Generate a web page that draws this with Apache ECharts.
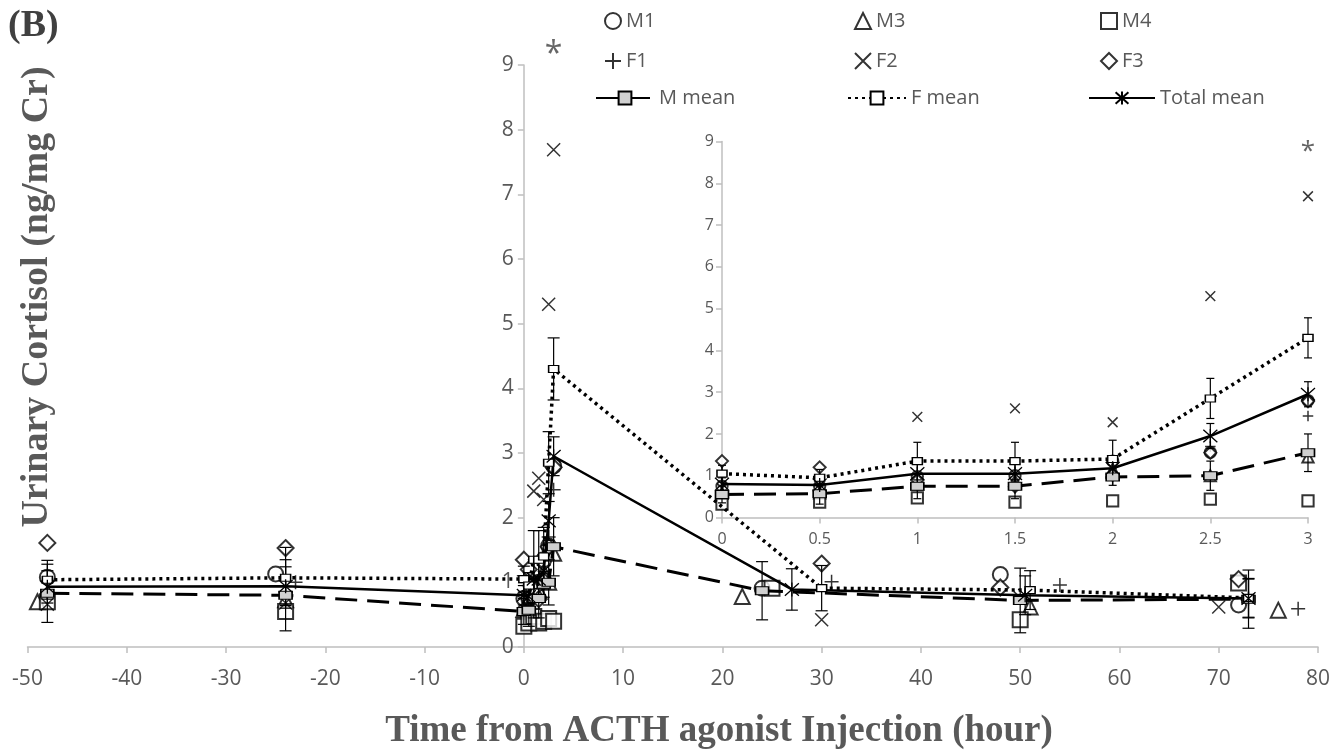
<!DOCTYPE html>
<html>
<head>
<meta charset="utf-8">
<script src="https://cdn.jsdelivr.net/npm/echarts@6/dist/echarts.min.js"></script>
<style>
  html, body { margin: 0; padding: 0; background: #fff; }
  #chart { width: 1341px; height: 753px; }
</style>
</head>
<body>
<div id="chart"></div>
<script>
// individual animals: sampling times (hour) and cortisol values
const tM1 = [-48, -25, 0, 0.5, 1, 1.5, 2, 2.5, 3, 24, 48, 72];
const vM1 = [1.08, 1.13, 0.75, 0.75, 0.98, 1.0, 1.35, 1.56, 2.8, 0.91, 1.12, 0.65];
const tM3 = [-49, -24, 0, 0.5, 1, 1.5, 2, 2.5, 3, 22, 51, 76];
const vM3 = [0.70, 0.73, 0.58, 0.59, 0.8, 0.88, 1.16, 1.0, 1.45, 0.78, 0.62, 0.57];
const tM4 = [-48, -24, 0, 0.5, 1, 1.5, 2, 2.5, 3, 25, 50, 72];
const vM4 = [0.70, 0.55, 0.32, 0.37, 0.47, 0.37, 0.4, 0.44, 0.4, 0.91, 0.42, 0.99];
const tF1 = [-48, -23, 0, 0.5, 1, 1.5, 2, 2.5, 3, 31, 54, 78];
const vF1 = [0.85, 1.0, 1.1, 0.95, 0.75, 0.7, 0.9, 1.7, 2.43, 1.01, 0.96, 0.59];
const tF2 = [-48, -24, 0, 0.5, 1, 1.5, 2, 2.5, 3, 30, 50, 70];
const vF2 = [0.66, 0.68, 0.7, 0.7, 2.41, 2.61, 2.28, 5.3, 7.69, 0.42, 0.76, 0.62];
const tF3 = [-48, -24, 0, 0.5, 1, 1.5, 2, 2.5, 3, 30, 48, 72];
const vF3 = [1.61, 1.53, 1.35, 1.2, 0.89, 0.74, 1.02, 1.55, 2.78, 1.29, 0.92, 1.05];

// group means with standard errors
const tMmean = [-48, -24, 0, 0.5, 1, 1.5, 2, 2.5, 3, 24, 50, 73];
const vMmean = [0.83, 0.80, 0.55, 0.57, 0.75, 0.75, 0.97, 1.0, 1.55, 0.87, 0.72, 0.74];
const eMmean = [0.45, 0.55, 0.2, 0.25, 0.3, 0.3, 0.2, 0.35, 0.45, 0.45, 0.5, 0.45];
const tFmean = [-48, -24, 0, 0.5, 1, 1.5, 2, 2.5, 3, 30, 51, 73];
const vFmean = [1.04, 1.07, 1.05, 0.95, 1.35, 1.35, 1.4, 2.85, 4.3, 0.91, 0.88, 0.76];
const eFmean = [0.3, 0.47, 0.2, 0.2, 0.45, 0.45, 0.45, 0.48, 0.48, 0.35, 0.3, 0.3];
const tTmean = [-48, -24, 0, 0.5, 1, 1.5, 2, 2.5, 3, 27, 50.5, 73];
const vTmean = [0.93, 0.94, 0.8, 0.78, 1.05, 1.05, 1.18, 1.95, 2.95, 0.89, 0.8, 0.75];
const eTmean = [0.25, 0.3, 0.15, 0.15, 0.3, 0.3, 0.25, 0.3, 0.3, 0.32, 0.3, 0.3];

// significance mark positions [time, value] for main plot and inset
const sigMain = [[3, 9.15]];
const sigInset = [[3, 8.75]];

const xTicksMain = { min: -50, max: 80, interval: 10 };
const xTicksInset = { min: 0, max: 3, interval: 0.5 };
const yTicks = { min: 0, max: 9, interval: 1 };

const GREY = '#595959';
const AXIS = '#bfbfbf';
const SANS = '"Open Sans", "Noto Sans", sans-serif';
const SERIF = '"Liberation Serif", "DejaVu Serif", serif';

const PLUS = 'path://M5,0 L5,10 M0,5 L10,5';
const CROSS = 'path://M0,0 L10,10 M10,0 L0,10';
const STAR = 'path://M5,0 L5,10 M0.5,0.5 L9.5,9.5 M9.5,0.5 L0.5,9.5';

// main grid edges, used to shift the y axis onto x = 0
const mainLeft = 27.5, mainRight = 23;
const mainWidth = 1341 - mainLeft - mainRight;
const yAxisShift = (0 - xTicksMain.min) / (xTicksMain.max - xTicksMain.min) * mainWidth;

function pairs(t, v) { return t.map((x, i) => [x, v[i]]); }
function inInset(p) { return p[0] >= 0 && p[0] <= 3; }
function errs(t, v, e) { return t.map((x, i) => [x, v[i] - e[i], v[i] + e[i]]); }

const individuals = [
  { name: 'M1', t: tM1, v: vM1, symbol: 'emptyCircle', size: 15 },
  { name: 'M3', t: tM3, v: vM3, symbol: 'emptyTriangle', size: 15 },
  { name: 'M4', t: tM4, v: vM4, symbol: 'emptyRect', size: 15 },
  { name: 'F1', t: tF1, v: vF1, symbol: PLUS, size: 14 },
  { name: 'F2', t: tF2, v: vF2, symbol: CROSS, size: 13 },
  { name: 'F3', t: tF3, v: vF3, symbol: 'emptyDiamond', size: 16 }
];

const means = [
  { name: 'M mean', t: tMmean, v: vMmean, e: eMmean, type: [22, 10], width: 3,
    symbol: 'rect', size: [13, 8], fill: '#d0d0d0' },
  { name: 'F mean', t: tFmean, v: vFmean, e: eFmean, type: [3, 4], width: 3.5,
    symbol: 'rect', size: [10, 7], fill: '#fff' },
  { name: 'Total mean', t: tTmean, v: vTmean, e: eTmean, type: 'solid', width: 2.5,
    symbol: STAR, size: 14, fill: '#000' }
];

function errRender(cap) {
  return function (params, api) {
    const x = api.value(0);
    const a = api.coord([x, api.value(1)]);
    const b = api.coord([x, api.value(2)]);
    const st = { stroke: '#000', lineWidth: 1.2 };
    return {
      type: 'group',
      children: [
        { type: 'line', shape: { x1: a[0], y1: a[1], x2: b[0], y2: b[1] }, style: st },
        { type: 'line', shape: { x1: a[0] - cap, y1: a[1], x2: a[0] + cap, y2: a[1] }, style: st },
        { type: 'line', shape: { x1: b[0] - cap, y1: b[1], x2: b[0] + cap, y2: b[1] }, style: st }
      ]
    };
  };
}

const series = [];
[0, 1].forEach(function (g) {
  const inset = g === 1;
  means.forEach(function (m) {
    let d = errs(m.t, m.v, m.e);
    if (inset) d = d.filter(inInset);
    series.push({
      type: 'custom', name: m.name + ' err', xAxisIndex: g, yAxisIndex: g,
      renderItem: errRender(inset ? 4 : 6), data: d, encode: { x: 0, y: [1, 2] }, z: 3
    });
  });
  individuals.forEach(function (s) {
    let d = pairs(s.t, s.v);
    if (inset) d = d.filter(inInset);
    series.push({
      type: 'scatter', name: s.name, xAxisIndex: g, yAxisIndex: g,
      symbol: s.symbol, symbolSize: inset ? s.size * 0.75 : s.size,
      itemStyle: { color: '#000', borderColor: '#000', borderWidth: 1.5 },
      data: d, z: 2
    });
  });
  means.forEach(function (m) {
    let d = pairs(m.t, m.v);
    if (inset) d = d.filter(inInset);
    series.push({
      type: 'line', name: m.name, xAxisIndex: g, yAxisIndex: g,
      symbol: m.symbol, symbolSize: m.size, showAllSymbol: true,
      lineStyle: { color: '#000', width: m.width, type: m.type },
      itemStyle: { color: m.fill, borderColor: '#000', borderWidth: 1.3 },
      data: d, z: 4
    });
  });
  series.push({
    type: 'scatter', name: 'sig', xAxisIndex: g, yAxisIndex: g, clip: false,
    symbolSize: 1, itemStyle: { color: 'rgba(0,0,0,0)' },
    label: { show: true, position: 'inside', formatter: '*', color: '#404040',
      fontSize: inset ? 26 : 32, fontFamily: SANS },
    data: inset ? sigInset : sigMain, silent: true
  });
});

function legendBox(left, top, names, w, h) {
  return {
    left: left, top: top, orient: 'vertical', itemGap: 20,
    itemWidth: w, itemHeight: h, data: names, selectedMode: false,
    textStyle: { color: GREY, fontSize: 20, fontFamily: SANS }
  };
}

function axisStyle(fs, margin) {
  return {
    axisLine: { onZero: false, lineStyle: { color: AXIS, width: 1.5 } },
    axisTick: { show: true, length: 6, lineStyle: { color: AXIS, width: 1.5 } },
    axisLabel: { color: GREY, fontSize: fs, fontFamily: SANS, margin: margin },
    splitLine: { show: false }
  };
}

const chart = echarts.init(document.getElementById('chart'));
chart.setOption({
  animation: false,
  backgroundColor: '#fff',
  title: {
    text: '(B)', left: 3, top: 2,
    textStyle: { fontFamily: SERIF, fontWeight: 'bold', fontSize: 38, color: '#404040' }
  },
  legend: [
    legendBox(599, 6, ['M1', 'F1'], 16, 16),
    legendBox(849, 6, ['M3', 'F2'], 16, 16),
    legendBox(1095, 6, ['M4', 'F3'], 16, 16),
    legendBox(590, 83, ['M mean'], 58, 16),
    legendBox(842, 83, ['F mean'], 58, 16),
    legendBox(1083, 83, ['Total mean'], 66, 16)
  ],
  grid: [
    { left: mainLeft, right: mainRight, top: 65, bottom: 106 },
    { left: 722, right: 33, top: 141.5, bottom: 235.5 }
  ],
  xAxis: [
    Object.assign({ type: 'value', gridIndex: 0 }, xTicksMain, axisStyle(21, 22)),
    Object.assign({ type: 'value', gridIndex: 1 }, xTicksInset, axisStyle(16, 14))
  ],
  yAxis: [
    Object.assign({ type: 'value', gridIndex: 0, offset: -yAxisShift }, yTicks, axisStyle(21, 10)),
    Object.assign({ type: 'value', gridIndex: 1 }, yTicks, axisStyle(16, 8))
  ],
  graphic: [
    {
      type: 'text', x: 37, y: 297, rotation: Math.PI / 2,
      style: {
        text: 'Urinary Cortisol (ng/mg Cr)', fill: GREY,
        font: 'bold 38px ' + SERIF, textAlign: 'center', textVerticalAlign: 'middle'
      }
    },
    {
      type: 'text', x: 719, y: 731,
      style: {
        text: 'Time from ACTH agonist Injection (hour)', fill: GREY,
        font: 'bold 37px ' + SERIF, textAlign: 'center', textVerticalAlign: 'middle'
      }
    }
  ],
  series: series
});
</script>
</body>
</html>
